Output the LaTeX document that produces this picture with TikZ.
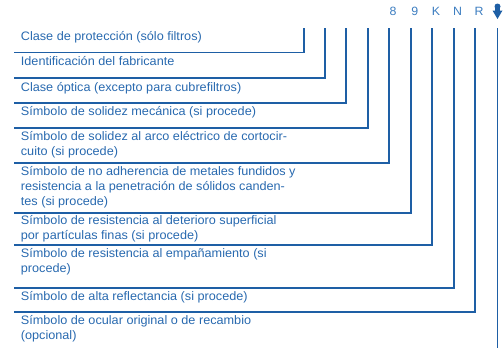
\documentclass[tikz,border=0pt]{standalone}
\usepackage{fontspec}
\setmainfont[FakeStretch=1.03]{Liberation Sans}
\definecolor{ln}{RGB}{30,95,165}
\definecolor{tx}{RGB}{40,105,175}
\definecolor{lb}{RGB}{60,125,192}
\begin{document}
\begin{tikzpicture}[x=1pt,y=-1pt,
  txt/.style={anchor=base west,inner sep=0pt,text=tx,font=\fontsize{12.3}{15}\selectfont},
  lab/.style={anchor=base,inner sep=0pt,text=lb,font=\fontsize{12}{15}\selectfont},
  sep/.style={draw=ln,line width=1.1pt}]
\useasboundingbox (0,0) rectangle (503,348);
% texts
\node[txt] (t1) at (20.7,40.7) {Clase de protección (sólo filtros)};
\node[txt] (t2) at (20.7,65.7) {Identificación del fabricante};
\node[txt] (t3) at (20.7,91.3) {Clase óptica (excepto para cubrefiltros)};
\node[txt] (t4) at (20.7,115.7) {Símbolo de solidez mecánica (si procede)};
\node[txt] (t5a) at (20.7,140.7) {Símbolo de solidez al arco eléctrico de cortocir-};
\node[txt] (t5b) at (20.7,155.7) {cuito (si procede)};
\node[txt] (t6a) at (20.7,175.7) {Símbolo de no adherencia de metales fundidos y};
\node[txt] (t6b) at (20.7,190.7) {resistencia a la penetración de sólidos canden-};
\node[txt] (t6c) at (20.7,205.7) {tes (si procede)};
\node[txt] (t7a) at (20.7,224) {Símbolo de resistencia al deterioro superficial};
\node[txt] (t7b) at (20.7,239) {por partículas finas (si procede)};
\node[txt] (t8a) at (20.7,257.3) {Símbolo de resistencia al empañamiento (si};
\node[txt] (t8b) at (20.7,272.3) {procede)};
\node[txt] (t9) at (20.7,300) {Símbolo de alta reflectancia (si procede)};
\node[txt] (t10a) at (20.7,324.3) {Símbolo de ocular original o de recambio};
\node[txt] (t10b) at (20.7,339.3) {(opcional)};
% labels
\node[lab] (l8) at (393,16) {8};
\node[lab] (l9) at (414.7,16) {9};
\node[lab] (lK) at (436,16) {K};
\node[lab] (lN) at (457.7,16) {N};
\node[lab] (lR) at (479,16) {R};
% arrow
\fill[ln] (497.5,6.5) circle (3pt);
\fill[ln] (495.2,6.5) rectangle (499.8,12);
\fill[ln] (492.5,10.5) -- (502.5,10.5) -- (497.5,19) -- cycle;
% coordinates
\foreach \n/\x/\y in {a/304/52.7,b/325/78,c/346/103,d/368/128,e/389/163,f/411/213,g/432/245,h/454/288,i/475/312}{
  \coordinate (s\n) at (14,\y);
  \coordinate (c\n) at (\x,\y);
  \coordinate (u\n) at (\x,28);
  \draw[sep] (s\n) -- (c\n) -- (u\n);
}
\coordinate (uj) at (497.5,28);
\coordinate (dj) at (497.5,348);
\draw[sep] (uj) -- (dj);
\end{tikzpicture}
\end{document}
